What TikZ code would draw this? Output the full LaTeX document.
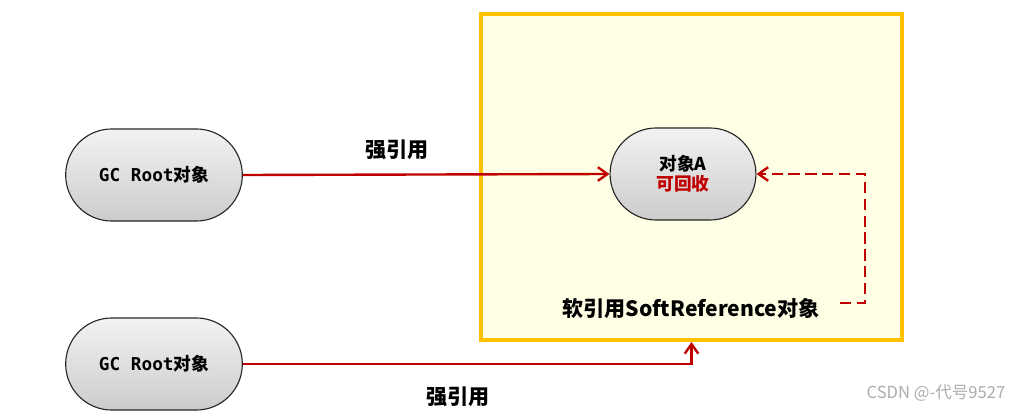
\documentclass[tikz,border=0pt]{standalone}
\usepackage{fontspec}
\setmainfont{Noto Sans CJK SC}
\setmonofont{DejaVu Sans Mono}
\usetikzlibrary{shapes.misc,arrows.meta}
\definecolor{refred}{RGB}{192,0,0}
\definecolor{boxline}{RGB}{255,192,0}
\definecolor{boxfill}{RGB}{255,255,229}

\begin{document}
\begin{tikzpicture}[x=0.025cm,y=-0.025cm,
	obj/.style={rounded rectangle, draw=black!85, thick, top color=gray!10,
		bottom color=gray!40, minimum width=4.65cm, minimum height=2.3cm,
		font=\bfseries\fontsize{12.6}{16}\selectfont, align=center},
	strongref/.style={draw=refred, line width=1.7pt,
		-{Straight Barb[length=2.4mm,width=3.4mm]}},
	lbl/.style={font=\bfseries\fontsize{15}{18}\selectfont}]
	\useasboundingbox (0,0) rectangle (1023,412);

	% soft reference object
	\node [draw=boxline, fill=boxfill, line width=2.8pt, minimum width=10.525cm,
		minimum height=8.15cm] (softbox) at (691.5,177) {};
	\node [lbl] (softlbl) at (691,308) {软引用SoftReference对象};

	\node [obj] (rootA) at (154,175) {{\ttfamily GC Root}对象};
	\node [obj] (rootB) at (154,364) {{\ttfamily GC Root}对象};
	\node [obj, minimum width=3.88cm, minimum height=2.3cm] (objA) at (683,174)
		{对象A\\[-2pt]{\color{refred}可回收}};

	\draw [strongref] (rootA.east) -- (objA.west);
	\node [lbl] (strongA) at (397,150) {强引用};

	\draw [strongref] (rootB.east) -| (softbox.south);
	\node [lbl] (strongB) at (458,397) {强引用};

	\coordinate (softend) at (840,303);
	\draw [strongref, dash pattern=on 8pt off 4pt] (softend) -- ++(25,0) |- (objA.east);

	\node [text=gray!65, font=\fontsize{11.8}{13}\selectfont] (mark) at (936,393)
		{CSDN @-代号9527};
\end{tikzpicture}
\end{document}
